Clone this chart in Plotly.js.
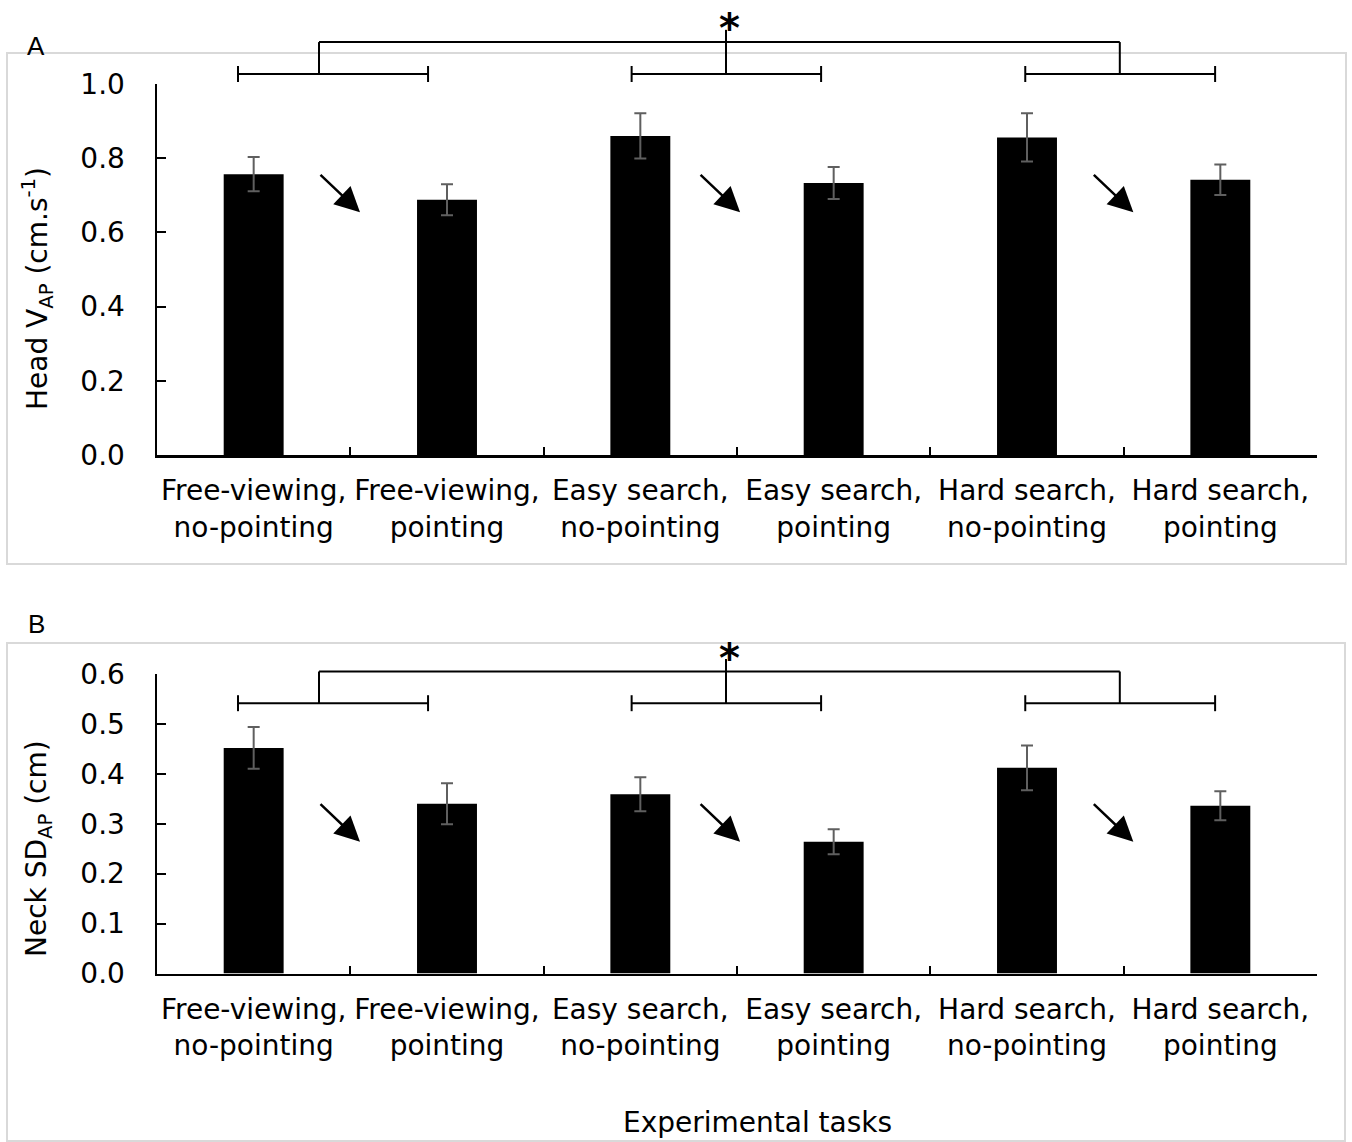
<!DOCTYPE html>
<html>
<head>
<meta charset="utf-8">
<script src="https://cdn.plot.ly/plotly-3.0.1.min.js"></script>
<style>
html,body{margin:0;padding:0;background:#fff;}
#chart{width:1352px;height:1142px;}
</style>
</head>
<body>
<div id="chart"></div>
<script>
// ---------------- data ----------------
const categories = [
  'Free-viewing,<br>no-pointing',
  'Free-viewing,<br>pointing',
  'Easy search,<br>no-pointing',
  'Easy search,<br>pointing',
  'Hard search,<br>no-pointing',
  'Hard search,<br>pointing'
];
const headVap    = [0.757, 0.688, 0.860, 0.733, 0.856, 0.742];
const headVapErr = [0.046, 0.042, 0.061, 0.043, 0.065, 0.041];
const neckSd     = [0.452, 0.340, 0.359, 0.264, 0.412, 0.336];
const neckSdErr  = [0.042, 0.041, 0.034, 0.025, 0.045, 0.029];
const yTicksA = [0.0, 0.2, 0.4, 0.6, 0.8, 1.0];
const yTicksB = [0.0, 0.1, 0.2, 0.3, 0.4, 0.5, 0.6];
const panelLabels = ['A', 'B'];
const yTitleA = 'Head V<sub>AP</sub> (cm.s<sup>-1</sup>)';
const yTitleB = 'Neck SD<sub>AP</sub> (cm)';
const xTitle = 'Experimental tasks';
const sigMark = '*';

// ---------------- layout constants ----------------
const W = 1352, H = 1142;
const FONT = 'DejaVu Sans, sans-serif';
const px = x => x / W;
const py = y => 1 - y / H;
const xDomain = [px(157), px(1317)];
const yDomA = [py(455), py(84)];
const yDomB = [py(973.5), py(674)];
const yRangeA = [0, 1.0];
const yRangeB = [0, 0.6];
const toPaper = (dom, rng, v) => dom[0] + (v - rng[0]) / (rng[1] - rng[0]) * (dom[1] - dom[0]);

// bracket geometry (category-index units along x, data units along y)
const groups = [[-0.081, 0.902], [1.955, 2.935], [3.991, 4.973]];
const stems = [0.338, 2.443, 4.48];
const levelsA = {low: 1.027, high: 1.113, stemTop: 1.146, star: 1.168, cap: 0.0216};
const levelsB = {low: 0.5415, high: 0.605, stemTop: 0.630, star: 0.645, cap: 0.016};
const arrowTipX = [0.55, 2.516, 4.55];
const arrowTipYA = 0.654, arrowTipYB = 0.264;

const errStyle = arr => ({type: 'data', array: arr, visible: true, color: '#5f5f5f', thickness: 2, width: 6});

const traces = [
  {type: 'bar', x: categories, y: headVap, xaxis: 'x', yaxis: 'y', width: 0.31,
   marker: {color: '#000000', line: {width: 0}}, error_y: errStyle(headVapErr), hoverinfo: 'skip'},
  {type: 'bar', x: categories, y: neckSd, xaxis: 'x2', yaxis: 'y2', width: 0.31,
   marker: {color: '#000000', line: {width: 0}}, error_y: errStyle(neckSdErr), hoverinfo: 'skip'}
];

function xAxisDef(anchor) {
  return {
    domain: xDomain, anchor: anchor, type: 'category', range: [-0.5, 5.5],
    showline: true, linecolor: '#000', linewidth: 2.5, showgrid: false, zeroline: false,
    ticks: 'inside', tickson: 'boundaries', ticklen: 8, tickwidth: 2, tickcolor: '#000',
    tickangle: 0, automargin: false,
    tickfont: {family: FONT, size: 28, color: '#000'}, ticklabelstandoff: 9,
    fixedrange: true
  };
}
function yAxisDef(anchor, dom, rng, ticks) {
  return {
    domain: dom, anchor: anchor, range: rng, tickmode: 'array', tickvals: ticks,
    ticktext: ticks.map(v => v.toFixed(1)),
    showline: true, linecolor: '#000', linewidth: 2.5, showgrid: false, zeroline: false,
    ticks: 'inside', ticklen: 9, tickwidth: 2, tickcolor: '#000', automargin: false,
    tickfont: {family: FONT, size: 28, color: '#000'}, ticklabelstandoff: 24,
    fixedrange: true
  };
}

const shapes = [];
// panel borders
const border = (x0, y0, x1, y1) => ({type: 'rect', xref: 'paper', yref: 'paper',
  x0: px(x0), x1: px(x1), y0: py(y0), y1: py(y1), line: {color: '#d9d9d9', width: 2}, layer: 'below'});
shapes.push(border(7, 53, 1346, 564));
shapes.push(border(7, 643, 1345, 1141));

function addBrackets(xref, dom, rng, L) {
  const Y = v => toPaper(dom, rng, v);
  const line = (x0, y0, x1, y1) => ({type: 'line', xref: xref, yref: 'paper', x0: x0, x1: x1,
    y0: Y(y0), y1: Y(y1), line: {color: '#000', width: 2}});
  groups.forEach((g, i) => {
    shapes.push(line(g[0], L.low, g[1], L.low));
    shapes.push(line(g[0], L.low - L.cap, g[0], L.low + L.cap));
    shapes.push(line(g[1], L.low - L.cap, g[1], L.low + L.cap));
    shapes.push(line(stems[i], L.low, stems[i], i === 1 ? L.stemTop : L.high));
  });
  shapes.push(line(stems[0], L.high, stems[2], L.high));
}
addBrackets('x', yDomA, yRangeA, levelsA);
addBrackets('x2', yDomB, yRangeB, levelsB);

const annotations = [];
function addArrows(xref, yref, tipY) {
  arrowTipX.forEach(tx => annotations.push({
    xref: xref, yref: yref, x: tx, y: tipY, ax: -41, ay: -39, axref: 'pixel', ayref: 'pixel',
    text: '', showarrow: true, arrowhead: 2, arrowsize: 2, arrowwidth: 2.5, arrowcolor: '#000'
  }));
}
addArrows('x', 'y', arrowTipYA);
addArrows('x2', 'y2', arrowTipYB);

function addStar(xref, dom, rng, L) {
  annotations.push({xref: xref, yref: 'paper', x: stems[1] + 0.02, y: toPaper(dom, rng, L.star),
    text: '<b>' + sigMark + '</b>', showarrow: false, xanchor: 'center', yanchor: 'middle', yshift: -6,
    font: {family: FONT, size: 40, color: '#000'}});
}
addStar('x', yDomA, yRangeA, levelsA);
addStar('x2', yDomB, yRangeB, levelsB);

// panel letters
const letterFont = {family: 'Liberation Sans, Arial, sans-serif', size: 26, color: '#000'};
annotations.push({xref: 'paper', yref: 'paper', x: px(36), y: py(46), text: panelLabels[0], showarrow: false,
  xanchor: 'center', yanchor: 'middle', font: letterFont});
annotations.push({xref: 'paper', yref: 'paper', x: px(36), y: py(624), text: panelLabels[1], showarrow: false,
  xanchor: 'center', yanchor: 'middle', font: letterFont});

// axis titles
annotations.push({xref: 'paper', yref: 'paper', x: px(38), y: py(289), text: yTitleA, textangle: -90,
  showarrow: false, xanchor: 'center', yanchor: 'middle', font: {family: FONT, size: 28, color: '#000'}});
annotations.push({xref: 'paper', yref: 'paper', x: px(38), y: py(849), text: yTitleB, textangle: -90,
  showarrow: false, xanchor: 'center', yanchor: 'middle', font: {family: FONT, size: 28, color: '#000'}});
annotations.push({xref: 'paper', yref: 'paper', x: px(757), y: py(1122), text: xTitle,
  showarrow: false, xanchor: 'center', yanchor: 'middle', font: {family: FONT, size: 28, color: '#000'}});

const layout = {
  width: W, height: H,
  margin: {l: 0, r: 0, t: 0, b: 0, pad: 0},
  paper_bgcolor: '#fff', plot_bgcolor: 'rgba(0,0,0,0)',
  showlegend: false,
  font: {family: FONT, size: 28, color: '#000'},
  xaxis: xAxisDef('y'),
  yaxis: yAxisDef('x', yDomA, yRangeA, yTicksA),
  xaxis2: xAxisDef('y2'),
  yaxis2: yAxisDef('x2', yDomB, yRangeB, yTicksB),
  shapes: shapes,
  annotations: annotations
};

Plotly.newPlot('chart', traces, layout, {displayModeBar: false, staticPlot: true});
</script>
</body>
</html>
